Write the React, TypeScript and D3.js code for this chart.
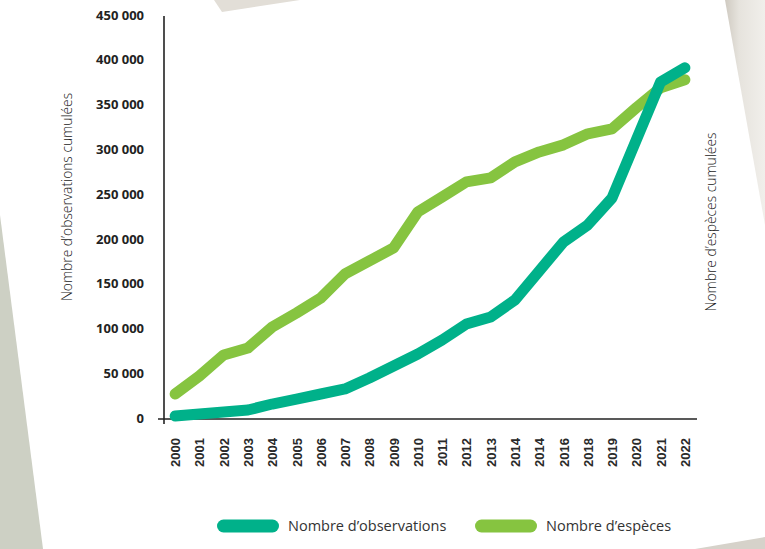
import { useEffect, useRef } from "react";
import * as d3 from "d3";

// year labels as printed in the source (2014 appears twice, no 2015 / 2017)
const years = [
  "2000", "2001", "2002", "2003", "2004", "2005", "2006", "2007",
  "2008", "2009", "2010", "2011", "2012", "2013", "2014", "2014",
  "2016", "2018", "2019", "2020", "2021", "2022",
];

const observations = [
  2200, 4500, 6700, 8900, 15600, 21200, 26800, 32400, 44700, 58100, 71500,
  87100, 105000, 112800, 131800, 164200, 196600, 215600, 245700, 310500,
  375300, 391000,
];

const species = [
  26800, 46900, 70400, 78200, 101600, 117300, 134000, 160900, 175400, 189900,
  230100, 246800, 263600, 268100, 286000, 297100, 305000, 317300, 322900,
  346400, 368700, 377700,
];

const yTicks = [0, 50000, 100000, 150000, 200000, 250000, 300000, 350000, 400000, 450000];

const TEAL = "#00b18a";
const GREEN = "#86c440";

const W = 765,
  H = 549;

const App = () => {
  const svgRef = useRef<SVGSVGElement | null>(null);

  useEffect(() => {
    const svg = d3.select(svgRef.current);
    svg.selectAll("*").remove();

    // background: paper edges and shadows
    const defs = svg.append("defs");
    const grad = defs
      .append("linearGradient")
      .attr("id", "edgeShadow")
      .attr("x1", "0")
      .attr("x2", "1")
      .attr("y1", "0")
      .attr("y2", "0");
    grad.append("stop").attr("offset", "0").attr("stop-color", "#cfcac1");
    grad.append("stop").attr("offset", "0.35").attr("stop-color", "#e6e3dd");
    grad.append("stop").attr("offset", "1").attr("stop-color", "#f1efeb");

    svg.append("rect").attr("width", W).attr("height", H).attr("fill", "#ffffff");
    svg
      .append("polygon")
      .attr("points", "0,215 43,549 0,549")
      .attr("fill", "#cdd0c4");
    svg
      .append("polygon")
      .attr("points", "214,0 300,0 222,12")
      .attr("fill", "#e2ded7");
    svg
      .append("polygon")
      .attr("points", "725,0 765,0 765,225")
      .attr("fill", "url(#edgeShadow)");
    svg
      .append("polygon")
      .attr("points", "695,549 765,537 765,549")
      .attr("fill", "#d6d2ca");

    const x = d3
      .scalePoint<number>()
      .domain(d3.range(years.length))
      .range([163, 697])
      .padding(0.5);

    const y = d3.scaleLinear().domain([0, 450000]).range([418, 15]);

    const fmt = (v: number) => d3.format(",")(v).replace(/,/g, " ");

    // y tick labels
    svg
      .append("g")
      .selectAll("text")
      .data(yTicks)
      .enter()
      .append("text")
      .attr("x", 144)
      .attr("y", (d) => y(d))
      .attr("dy", "0.36em")
      .attr("text-anchor", "end")
      .attr("font-family", "'Open Sans', sans-serif")
      .attr("font-weight", 700)
      .attr("font-size", 13)
      .attr("fill", "#222")
      .text((d) => fmt(d));

    // axes
    svg
      .append("line")
      .attr("x1", 164)
      .attr("x2", 164)
      .attr("y1", 16)
      .attr("y2", 424)
      .attr("stroke", "#222")
      .attr("stroke-width", 1.6);
    svg
      .append("line")
      .attr("x1", 158)
      .attr("x2", 697)
      .attr("y1", 419)
      .attr("y2", 419)
      .attr("stroke", "#222")
      .attr("stroke-width", 1.6);

    // year labels
    svg
      .append("g")
      .selectAll("text")
      .data(years)
      .enter()
      .append("text")
      .attr("transform", (_, i) => `translate(${x(i)! + 0.5},438) rotate(-90)`)
      .attr("dy", "0.35em")
      .attr("text-anchor", "end")
      .attr("font-family", "'Liberation Sans', Arial, sans-serif")
      .attr("font-weight", 700)
      .attr("font-size", 13)
      .attr("fill", "#2a2a2a")
      .text((d) => d);

    // axis titles
    svg
      .append("text")
      .attr("transform", "translate(67,197) rotate(-90)")
      .attr("dy", "0.35em")
      .attr("text-anchor", "middle")
      .attr("font-family", "'Open Sans', sans-serif")
      .attr("font-weight", 300)
      .attr("font-size", 13.8)
      .attr("fill", "#222")
      .text("Nombre d’observations cumulées");
    svg
      .append("text")
      .attr("transform", "translate(711,222) rotate(-90)")
      .attr("dy", "0.35em")
      .attr("text-anchor", "middle")
      .attr("font-family", "'Open Sans', sans-serif")
      .attr("font-weight", 300)
      .attr("font-size", 13.8)
      .attr("fill", "#222")
      .text("Nombre d’espèces cumulées");

    // lines
    const line = d3
      .line<number>()
      .x((_, i) => x(i)!)
      .y((d) => y(d));

    svg
      .append("path")
      .datum(species)
      .attr("d", line)
      .attr("fill", "none")
      .attr("stroke", GREEN)
      .attr("stroke-width", 11)
      .attr("stroke-linecap", "round")
      .attr("stroke-linejoin", "round");

    svg
      .append("path")
      .datum(observations)
      .attr("d", line)
      .attr("fill", "none")
      .attr("stroke", TEAL)
      .attr("stroke-width", 11)
      .attr("stroke-linecap", "round")
      .attr("stroke-linejoin", "round");

    // legend
    const legend = [
      { label: "Nombre d’observations", color: TEAL, x: 217 },
      { label: "Nombre d’espèces", color: GREEN, x: 475 },
    ];
    const lg = svg
      .append("g")
      .selectAll("g")
      .data(legend)
      .enter()
      .append("g")
      .attr("transform", (d) => `translate(${d.x},526)`);
    lg.append("rect")
      .attr("x", 0)
      .attr("y", -6.5)
      .attr("width", 62)
      .attr("height", 13)
      .attr("rx", 6.5)
      .attr("fill", (d) => d.color);
    lg.append("text")
      .attr("x", 71)
      .attr("dy", "0.36em")
      .attr("font-family", "'Open Sans', sans-serif")
      .attr("font-size", 14.5)
      .attr("fill", "#333")
      .text((d) => d.label);
  }, []);

  return (
    <svg
      ref={svgRef}
      width={W}
      height={H}
      style={{ position: "absolute", left: 0, top: 0 }}
    ></svg>
  );
};

export default App;
